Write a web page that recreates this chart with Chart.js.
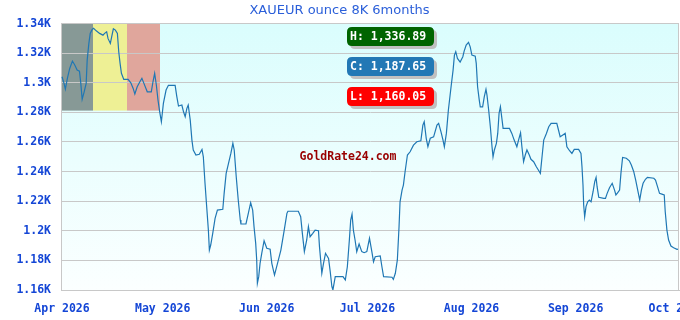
<!DOCTYPE html>
<html><head><meta charset="utf-8">
<script src="https://cdn.jsdelivr.net/npm/chart.js@4"></script>
<style>html,body{margin:0;padding:0;background:#fff;overflow:hidden;}#wrap{width:680px;height:320px;}</style>
</head><body><div id="wrap"><canvas id="c" width="680" height="320"></canvas></div>
<script>
// Day offsets from 1 Apr 2026 and XAUEUR 8K ounce prices
const days = [0,0.6,1.0,1.6,2.3,3.1,3.8,4.5,5.2,5.6,6.0,6.6,7.2,7.5,8.0,8.4,9.0,9.4,10.2,11.2,12.2,12.7,13.3,13.7,14.4,14.9,15.3,15.9,16.5,16.9,17.3,17.7,18.4,19.7,20.5,21.2,21.7,22.4,23.2,23.8,24.4,25.4,26.6,27.1,27.6,28.1,28.6,29.1,29.6,30.2,31.0,31.7,33.7,34.2,34.7,35.7,36.2,36.7,37.2,37.6,38.2,38.7,39.1,39.9,40.9,41.7,42.1,42.6,43.1,43.6,43.9,44.3,44.9,45.6,46.3,47.9,48.3,48.9,49.6,50.3,50.9,51.3,51.9,52.5,53.1,53.3,54.8,55.5,56.2,56.8,57.2,57.7,58.0,58.2,58.6,59.0,59.5,60.2,61.0,62.0,62.5,63.3,64.2,65.2,66.2,67.0,67.3,70.4,71.1,71.6,72.2,72.9,73.4,73.9,74.7,75.4,76.4,76.7,77.4,77.9,78.5,79.4,79.9,80.4,80.7,81.4,83.7,84.4,85.0,85.6,86.0,86.4,86.8,87.3,87.8,88.5,89.3,90.0,90.8,91.6,92.3,92.8,93.3,94.8,95.3,95.8,98.3,98.7,99.3,99.9,100.4,100.7,101.3,101.7,102.2,102.9,103.7,104.7,105.7,106.9,107.5,107.9,108.5,109.0,109.7,110.7,111.7,112.2,112.9,113.5,113.9,114.5,115.1,115.9,116.5,116.9,117.3,117.8,118.6,119.4,119.8,120.4,121.1,121.6,122.1,123.1,123.4,123.8,124.3,124.6,125.3,125.8,126.3,126.6,127.1,127.6,128.1,128.4,128.8,129.4,129.8,130.2,130.6,131.1,131.4,133.3,134.0,134.7,135.5,136.0,136.6,137.0,137.5,138.0,138.5,139.2,139.7,140.5,141.3,141.9,142.5,143.0,143.5,144.3,145.0,145.7,147.4,147.9,148.4,149.2,149.9,150.4,151.2,151.9,152.6,153.9,154.6,154.9,155.2,155.4,155.7,156.1,156.6,157.1,157.6,158.2,158.7,159.1,159.4,159.9,161.4,161.9,162.4,163.1,163.9,164.6,165.0,165.5,166.1,166.5,167.0,168.1,169.0,169.6,170.3,170.9,171.5,172.1,172.6,173.1,173.8,174.4,176.3,176.8,177.4,178.0,178.7,179.4,179.7,180.2,180.7,181.4,182.2,183.2,183.7];
const prices = [1304.1,1299.6,1295.8,1303.0,1309.7,1314.7,1312.0,1308.6,1307.9,1299.6,1288.8,1293.9,1299.6,1315.3,1326.6,1333.4,1336.1,1336.89,1335.1,1333.4,1332.2,1333.4,1334.5,1330.0,1326.6,1332.2,1336.5,1335.6,1333.4,1321.0,1313.1,1306.4,1302.3,1302.3,1300.0,1296.2,1292.4,1297.3,1300.7,1303.0,1299.6,1293.9,1293.9,1300.7,1306.4,1298.5,1288.3,1280.4,1273.7,1286.1,1295.1,1298.3,1298.3,1290.6,1284.3,1285.0,1280.4,1277.1,1282.7,1285.0,1274.8,1261.3,1254.6,1251.2,1251.7,1255.0,1250.0,1232.1,1216.3,1200.5,1187.0,1190.4,1198.3,1208.4,1214.0,1214.5,1225.3,1238.8,1245.6,1252.3,1259.1,1254.6,1236.5,1220.8,1207.3,1204.6,1204.6,1211.8,1219.0,1214.0,1202.8,1191.5,1180.3,1164.5,1169.0,1178.0,1184.8,1193.3,1188.2,1187.5,1178.0,1170.1,1178.0,1187.0,1200.5,1211.8,1213.2,1213.2,1209.5,1198.3,1185.9,1193.8,1202.8,1196.0,1198.3,1200.5,1200.1,1189.3,1171.3,1178.0,1184.8,1181.4,1172.4,1162.2,1160.05,1169.0,1169.0,1166.8,1175.7,1193.8,1207.3,1211.3,1200.5,1193.8,1185.9,1191.1,1185.9,1185.2,1185.9,1194.9,1185.9,1179.1,1182.5,1183.0,1175.7,1169.0,1168.6,1167.2,1171.3,1180.3,1202.8,1219.6,1227.5,1230.9,1239.9,1251.2,1253.4,1257.9,1260.2,1260.8,1271.4,1273.7,1262.5,1256.8,1262.5,1263.5,1271.4,1272.6,1266.9,1261.3,1256.8,1265.8,1281.6,1297.3,1308.6,1318.7,1321.0,1316.5,1314.0,1317.6,1321.4,1325.5,1327.3,1324.3,1318.7,1318.0,1313.1,1297.3,1288.3,1283.8,1283.8,1290.6,1295.6,1291.7,1281.6,1270.3,1256.8,1250.0,1254.6,1259.1,1265.8,1279.4,1283.8,1274.8,1269.2,1269.2,1265.8,1261.3,1256.8,1261.3,1266.2,1256.8,1246.7,1251.2,1254.6,1251.2,1248.3,1246.7,1243.3,1241.1,1238.8,1250.0,1261.3,1265.8,1270.3,1272.6,1272.6,1268.1,1263.5,1264.7,1265.8,1256.8,1254.1,1252.3,1255.0,1255.0,1252.3,1243.3,1230.9,1217.4,1209.5,1216.3,1219.6,1220.8,1219.6,1226.4,1233.2,1236.1,1229.8,1222.6,1221.9,1221.9,1225.3,1229.1,1232.1,1227.5,1224.2,1225.7,1227.5,1238.8,1249.6,1249.0,1247.3,1244.4,1240.1,1234.3,1227.5,1220.8,1227.5,1232.1,1234.8,1236.1,1235.5,1234.3,1229.8,1225.3,1224.8,1224.2,1212.9,1200.5,1193.8,1189.7,1188.6,1187.5,1187.65];
const monthTicks = [0,30,61,91,122,153,183];
const monthLabels = ['Apr 2026','May 2026','Jun 2026','Jul 2026','Aug 2026','Sep 2026','Oct 2026'];
const yTicks = [1160,1180,1200,1220,1240,1260,1280,1300,1320,1340];
const yTickLabels = ['1.16K','1.18K','1.2K','1.22K','1.24K','1.26K','1.28K','1.3K','1.32K','1.34K'];
const chartTitle = 'XAUEUR ounce 8K 6months';
const watermark = 'GoldRate24.com';

const fmt = v => v.toLocaleString('en-US',{minimumFractionDigits:2,maximumFractionDigits:2});
const high = Math.max(...prices), low = Math.min(...prices), close = prices[prices.length-1];
const badges = [
  {text:'H: '+fmt(high), color:'#006400'},
  {text:'C: '+fmt(close), color:'#2278b5'},
  {text:'L: '+fmt(low), color:'#ff0000'}
];
const tickFont = {family:'DejaVu Sans Mono', weight:'bold', size:11.5};
const tickColor = '#1446d6';

function rrect(ctx,x,y,w,h,r){
  ctx.beginPath();
  ctx.moveTo(x+r,y);ctx.lineTo(x+w-r,y);ctx.quadraticCurveTo(x+w,y,x+w,y+r);
  ctx.lineTo(x+w,y+h-r);ctx.quadraticCurveTo(x+w,y+h,x+w-r,y+h);
  ctx.lineTo(x+r,y+h);ctx.quadraticCurveTo(x,y+h,x,y+h-r);
  ctx.lineTo(x,y+r);ctx.quadraticCurveTo(x,y,x+r,y);ctx.closePath();
}

const decor = {
  id:'decor',
  beforeDraw(chart){
    const {ctx, chartArea:a} = chart;
    ctx.save();
    ctx.fillStyle='#fff';ctx.fillRect(0,0,chart.width,chart.height);
    const g = ctx.createLinearGradient(0,a.top,0,a.bottom);
    g.addColorStop(0,'#dafdfd');g.addColorStop(1,'#fbffff');
    ctx.fillStyle=g;ctx.fillRect(a.left,a.top,a.right-a.left,a.bottom-a.top);
    // flag decoration in top-left corner
    const fx=a.left, fy=a.top;
    ctx.fillStyle='#879996';ctx.fillRect(fx,fy,32,87);
    ctx.fillStyle='#eef095';ctx.fillRect(fx+32,fy,34,87);
    ctx.fillStyle='#e0a69c';ctx.fillRect(fx+66,fy,33,87);
    ctx.restore();
  },
  beforeDatasetsDraw(chart){
    const {ctx} = chart;
    ctx.save();
    ctx.font='bold 11.5px "DejaVu Sans Mono"';
    ctx.fillStyle='#990000';ctx.textAlign='center';ctx.textBaseline='middle';
    ctx.fillText(watermark,348,157);
    ctx.restore();
  },
  afterDraw(chart){
    const {ctx, chartArea:a} = chart;
    ctx.save();
    ctx.strokeStyle='#c8c8c8';ctx.lineWidth=1;
    ctx.beginPath();ctx.moveTo(a.right-0.5,a.top);ctx.lineTo(a.right-0.5,a.bottom);ctx.stroke();
    ctx.font='bold 11.5px "DejaVu Sans Mono"';ctx.textBaseline='middle';ctx.textAlign='left';
    badges.forEach((b,i)=>{
      const x=347, y=27+i*30, w=87, h=19;
      ctx.fillStyle='#c0c0c0';rrect(ctx,x+3,y+3,w,h,5);ctx.fill();
      ctx.fillStyle=b.color;rrect(ctx,x,y,w,h,5);ctx.fill();
      ctx.fillStyle='#fff';ctx.fillText(b.text,x+3,y+h/2+0.5);
    });
    ctx.restore();
  }
};

new Chart(document.getElementById('c'),{
  type:'line',
  data:{datasets:[{data:days.map((d,i)=>({x:d,y:prices[i]})),borderColor:'#1f77b4',borderWidth:1.2,pointRadius:0,tension:0,fill:false}]},
  options:{
    responsive:false,animation:false,devicePixelRatio:1,
    layout:{padding:{left:0,right:1,top:0,bottom:0}},
    plugins:{
      legend:{display:false},tooltip:{enabled:false},
      title:{display:true,text:chartTitle,color:'#2b5fd9',font:{family:'DejaVu Sans',size:13,weight:'normal'},padding:{top:3,bottom:5}}
    },
    scales:{
      x:{type:'linear',bounds:'data',min:-0.3,max:183.8,
        afterBuildTicks:s=>{s.ticks=monthTicks.map(v=>({value:v}));},
        ticks:{autoSkip:false,maxRotation:0,color:tickColor,font:tickFont,padding:12,callback:(v,i)=>monthLabels[i]},
        grid:{display:false,drawTicks:false},
        border:{display:true,color:'#c8c8c8'},
        afterFit:s=>{s.height=30;s.paddingLeft=0;s.paddingRight=0;}
      },
      y:{min:1160,max:1340,bounds:'data',
        afterBuildTicks:s=>{s.ticks=yTicks.map(v=>({value:v}));},
        ticks:{autoSkip:false,color:tickColor,font:tickFont,padding:10,callback:(v,i)=>yTickLabels[i]},
        grid:{color:'#c8c8c8',lineWidth:1,drawTicks:false},
        border:{display:true,color:'#c8c8c8'},
        afterFit:s=>{s.width=61;s.paddingTop=0;s.paddingBottom=0;}
      }
    }
  },
  plugins:[decor]
});
</script></body></html>
